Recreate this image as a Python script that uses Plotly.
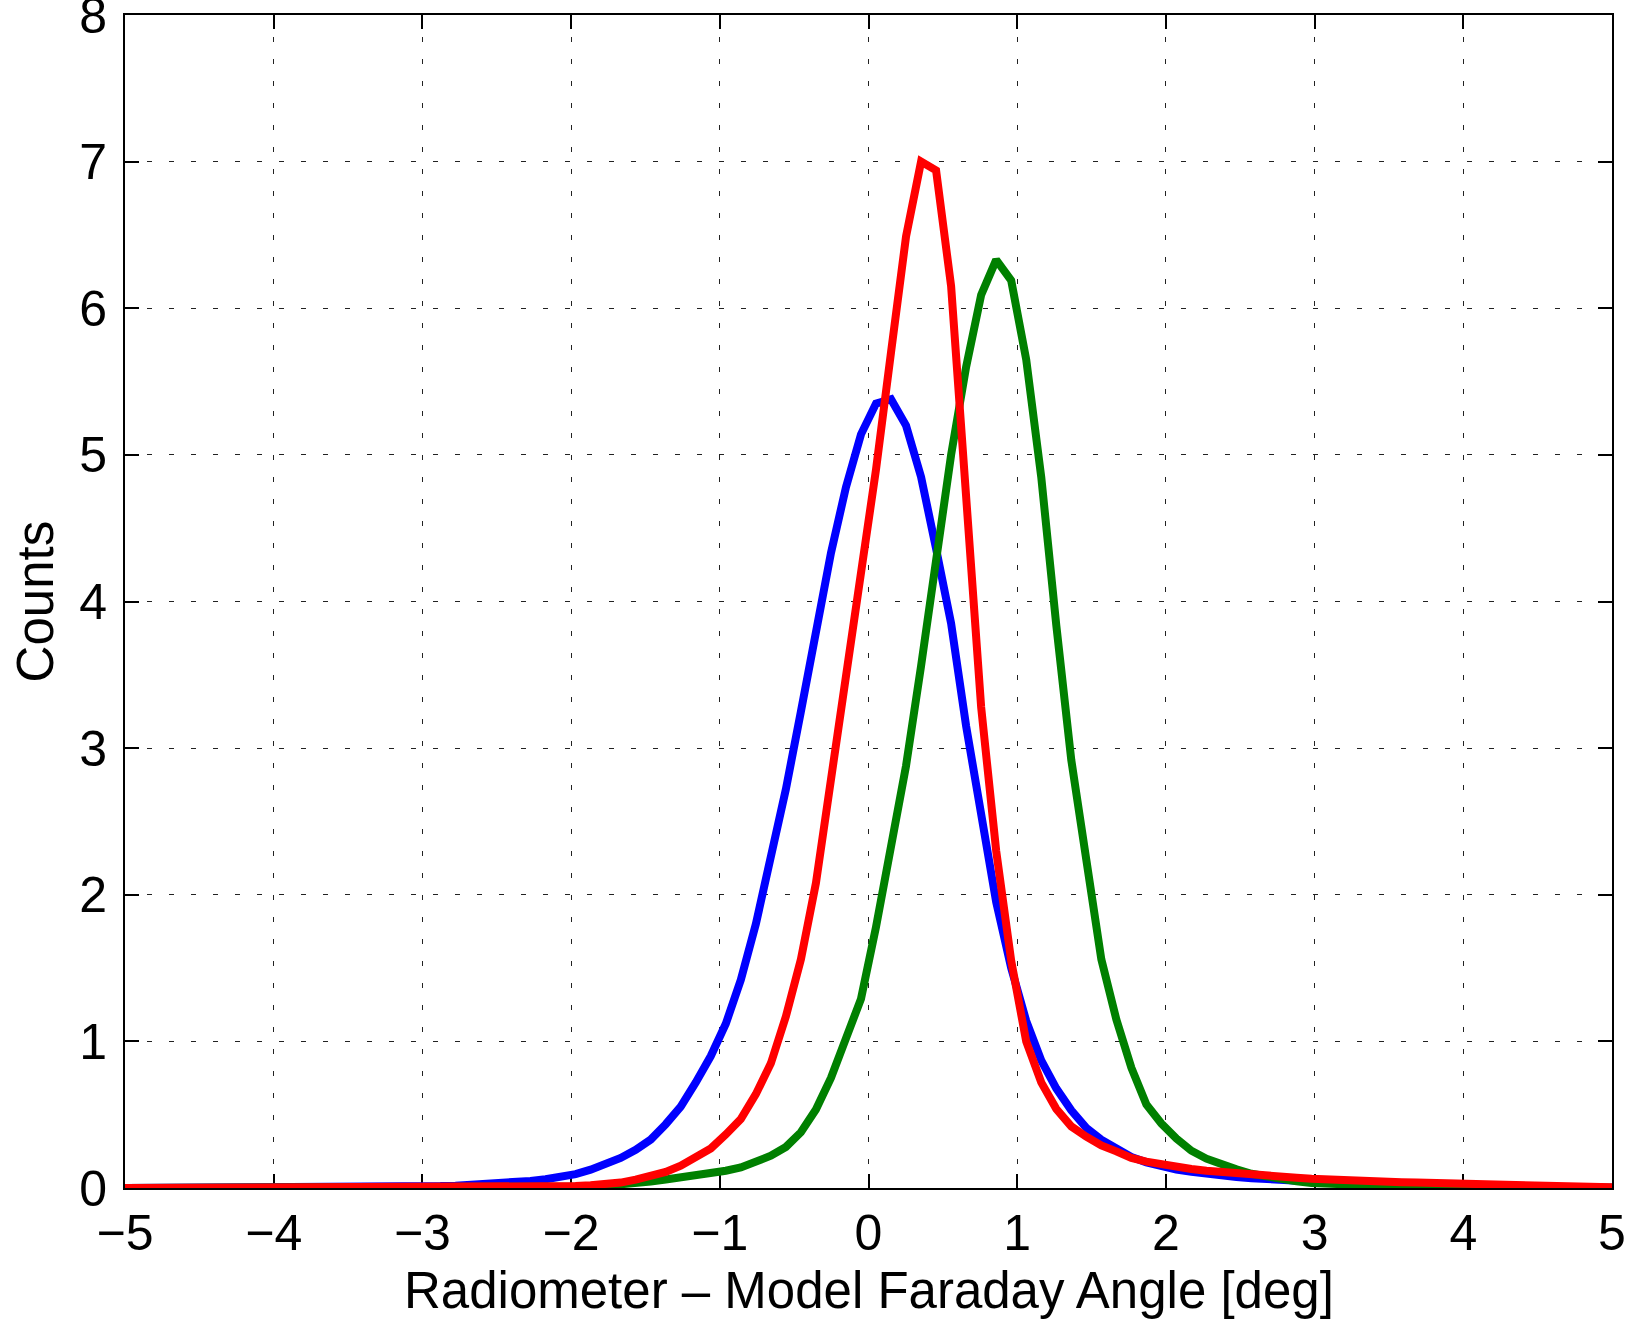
import numpy as np
import plotly.graph_objects as go

# x grid: 100 evenly spaced bin positions from -5 to 5
x_vals = np.linspace(-5, 5, 100)

blue_counts = [
    0.000, 0.000, 0.000, 0.000, 0.001, 0.001, 0.001, 0.001, 0.002, 0.002,
    0.002, 0.003, 0.003, 0.004, 0.004, 0.005, 0.006, 0.007, 0.008, 0.009,
    0.011, 0.013, 0.016, 0.020, 0.025, 0.031, 0.039, 0.048, 0.060, 0.075,
    0.095, 0.125, 0.160, 0.205, 0.260, 0.330, 0.435, 0.555, 0.720, 0.900,
    1.120, 1.420, 1.800, 2.250, 2.720, 3.250, 3.820, 4.330, 4.780, 5.140,
    5.350, 5.380, 5.200, 4.850, 4.360, 3.850, 3.150, 2.550, 1.950, 1.500,
    1.140, 0.870, 0.680, 0.530, 0.410, 0.330, 0.265, 0.212, 0.175, 0.145,
    0.125, 0.110, 0.095, 0.085, 0.075, 0.067, 0.060, 0.053, 0.047, 0.041,
    0.036, 0.032, 0.028, 0.025, 0.022, 0.019, 0.017, 0.015, 0.013, 0.011,
    0.010, 0.009, 0.008, 0.007, 0.006, 0.005, 0.004, 0.003, 0.003, 0.002,
]

green_counts = [
    0.000, 0.000, 0.000, 0.000, 0.000, 0.000, 0.000, 0.000, 0.000, 0.000,
    0.000, 0.000, 0.000, 0.000, 0.000, 0.000, 0.000, 0.000, 0.000, 0.000,
    0.000, 0.000, 0.000, 0.000, 0.000, 0.001, 0.002, 0.003, 0.004, 0.006,
    0.008, 0.011, 0.015, 0.022, 0.032, 0.045, 0.058, 0.070, 0.085, 0.100,
    0.118, 0.140, 0.175, 0.220, 0.280, 0.380, 0.535, 0.750, 1.020, 1.290,
    1.780, 2.330, 2.880, 3.560, 4.270, 5.000, 5.600, 6.090, 6.330, 6.190,
    5.650, 4.850, 3.840, 2.920, 2.240, 1.560, 1.150, 0.820, 0.570, 0.440,
    0.337, 0.254, 0.200, 0.158, 0.127, 0.097, 0.077, 0.057, 0.045, 0.034,
    0.028, 0.022, 0.018, 0.015, 0.012, 0.010, 0.008, 0.007, 0.006, 0.005,
    0.004, 0.003, 0.003, 0.002, 0.002, 0.002, 0.001, 0.001, 0.001, 0.001,
]

red_counts = [
    0.000, 0.000, 0.000, 0.000, 0.000, 0.000, 0.000, 0.000, 0.000, 0.000,
    0.000, 0.000, 0.000, 0.000, 0.000, 0.000, 0.000, 0.000, 0.000, 0.000,
    0.001, 0.001, 0.002, 0.002, 0.003, 0.003, 0.004, 0.005, 0.007, 0.009,
    0.013, 0.019, 0.027, 0.037, 0.057, 0.081, 0.110, 0.152, 0.207, 0.270,
    0.365, 0.470, 0.640, 0.850, 1.170, 1.560, 2.080, 2.780, 3.480, 4.180,
    4.900, 5.700, 6.490, 7.000, 6.940, 6.150, 4.760, 3.280, 2.300, 1.550,
    1.000, 0.720, 0.540, 0.420, 0.350, 0.290, 0.250, 0.205, 0.180, 0.160,
    0.145, 0.130, 0.118, 0.108, 0.098, 0.090, 0.085, 0.078, 0.070, 0.063,
    0.057, 0.052, 0.048, 0.045, 0.042, 0.040, 0.037, 0.034, 0.031, 0.028,
    0.025, 0.022, 0.020, 0.018, 0.015, 0.013, 0.011, 0.009, 0.007, 0.005,
]

x_ticks = [-5, -4, -3, -2, -1, 0, 1, 2, 3, 4, 5]
y_ticks = [0, 1, 2, 3, 4, 5, 6, 7, 8]
x_title = "Radiometer \u2013 Model Faraday Angle [deg]"
y_title = "Counts"

FONT = "Liberation Sans, Arial, Helvetica, sans-serif"
LW = 8

fig = go.Figure()
fig.add_trace(go.Scatter(x=x_vals, y=blue_counts, mode="lines",
                         line=dict(color="#0000FF", width=LW), showlegend=False))
fig.add_trace(go.Scatter(x=x_vals, y=green_counts, mode="lines",
                         line=dict(color="#008000", width=LW), showlegend=False))
fig.add_trace(go.Scatter(x=x_vals, y=red_counts, mode="lines",
                         line=dict(color="#FF0000", width=LW), showlegend=False))

axis_common = dict(
    showline=True, linecolor="black", linewidth=2, mirror="ticks",
    ticks="inside", ticklen=14, tickwidth=2, tickcolor="black",
    showgrid=True, gridcolor="#222222", gridwidth=1.2, griddash="5px,17px",
    zeroline=False, layer="below traces", ticklabeloverflow="allow",
    automargin=False,
    tickfont=dict(family=FONT, size=50, color="black"),
)

fig.update_xaxes(range=[-5, 5], tickvals=x_ticks, ticklabelstandoff=0, **axis_common)
fig.update_yaxes(range=[0, 8], tickvals=y_ticks, ticklabelstandoff=6, **axis_common)

fig.add_annotation(text=x_title, xref="paper", yref="paper", x=0.5, y=-0.0878,
                   xanchor="center", yanchor="middle", showarrow=False,
                   font=dict(family=FONT, size=51, color="black"))
fig.add_annotation(text=y_title, xref="paper", yref="paper", x=-0.0599, y=0.5,
                   xanchor="center", yanchor="middle", showarrow=False, textangle=-90,
                   font=dict(family=FONT, size=51, color="black"))

fig.update_layout(
    width=1633, height=1326, autosize=False,
    margin=dict(l=125, r=21, t=15, b=138, pad=0, autoexpand=False),
    paper_bgcolor="white", plot_bgcolor="white",
)

fig.write_html("out.html")
